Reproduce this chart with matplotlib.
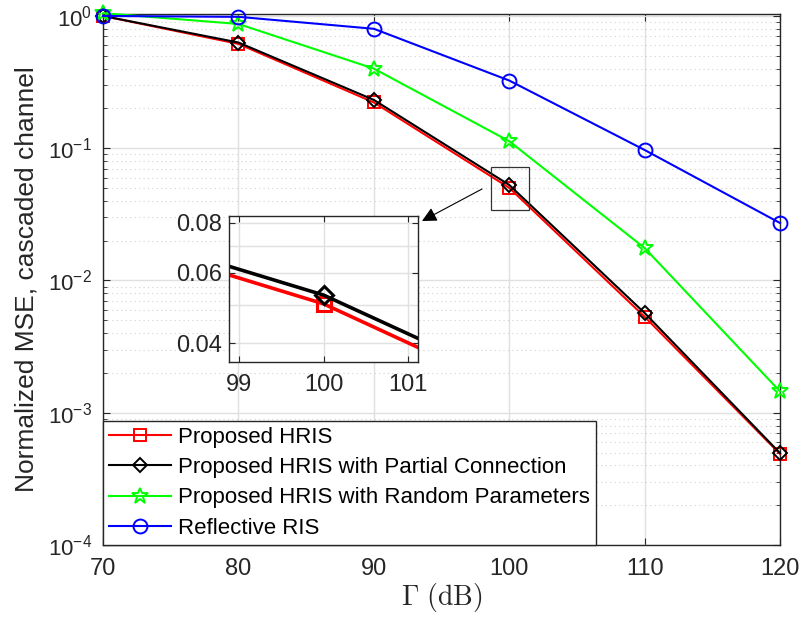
import numpy as np
import matplotlib
matplotlib.use('Agg')
import matplotlib.pyplot as plt
from matplotlib.patches import Rectangle
from matplotlib.ticker import FixedLocator, FixedFormatter, NullFormatter, LogLocator

plt.rcParams['font.family'] = ['Liberation Sans', 'DejaVu Sans']
plt.rcParams['mathtext.fontset'] = 'cm'

gamma_db = [70, 80, 90, 100, 110, 120]
mse_hris = [1.0, 0.615, 0.222, 0.0502, 0.00532, 4.88e-4]
mse_partial = [1.0, 0.63, 0.232, 0.0528, 0.00568, 4.95e-4]
mse_random = [1.05, 0.87, 0.40, 0.113, 0.0176, 1.45e-3]
mse_reflective = [1.0, 0.985, 0.80, 0.325, 0.097, 0.0272]

labels = ['Proposed HRIS',
	'Proposed HRIS with Partial Connection',
	'Proposed HRIS with Random Parameters',
	'Reflective RIS']

zoom_x = (98.63, 101.46)
zoom_y = (0.0341, 0.0721)

txtcol = '#262626'

fig = plt.figure(figsize=(8.03, 6.19), dpi=100)
ax = fig.add_axes([0.1283, 0.1195, 0.8431, 0.8579])

styles = [
	dict(color='red', marker='s', ms=8),
	dict(color='black', marker='D', ms=7),
	dict(color='#00ff00', marker='*', ms=12),
	dict(color='blue', marker='o', ms=10),
]
series = [mse_hris, mse_partial, mse_random, mse_reflective]

for vals, lab, st in zip(series, labels, styles):
	ax.plot(gamma_db, vals, color=st['color'], marker=st['marker'], ms=st['ms'],
		mfc='none', mew=1.4, lw=1.5, label=lab, clip_on=False, zorder=3)

ax.set_yscale('log')
ax.set_xlim(70, 120)
ax.set_ylim(1e-4, 1.035)
ax.set_xticks([70, 80, 90, 100, 110, 120])
ax.yaxis.set_minor_locator(LogLocator(base=10, subs=np.arange(2, 10)))
ax.yaxis.set_minor_formatter(NullFormatter())
ax.grid(True, which='major', color='#e0e0e0', lw=1.0, ls='-')
ax.grid(True, which='minor', axis='y', color='#d0d0d0', lw=0.8, ls=(0, (1, 3)))
ax.set_axisbelow(True)
ax.tick_params(which='both', direction='in', top=True, right=True, colors=txtcol)
ax.tick_params(axis='x', labelsize=17, pad=9)
ax.tick_params(axis='y', labelsize=16, pad=8)
ax.tick_params(which='major', length=5)
ax.tick_params(which='minor', length=3)
for s in ax.spines.values():
	s.set_color(txtcol)
	s.set_linewidth(1.0)

ax.set_xlabel(r'$\Gamma\ \mathrm{(dB)}$', fontsize=20, color=txtcol, labelpad=1)
ax.set_ylabel('Normalized MSE, cascaded channel', fontsize=19, color=txtcol, labelpad=7)

leg = ax.legend(loc='lower left', bbox_to_anchor=(0, 0), borderaxespad=0, fontsize=16,
	fancybox=False, framealpha=1, edgecolor=txtcol, handlelength=2.8, labelspacing=0.42,
	handletextpad=0.3, borderpad=0.28)
leg.get_frame().set_linewidth(1.0)

ax.add_patch(Rectangle((zoom_x[0], zoom_y[0]), zoom_x[1] - zoom_x[0], zoom_y[1] - zoom_y[0],
	fill=False, edgecolor='#333333', lw=0.9, zorder=5))

ax.annotate('', xy=(422 / 803, 1 - 221 / 619), xycoords='figure fraction',
	xytext=(482 / 803, 1 - 189 / 619), textcoords='figure fraction',
	arrowprops=dict(arrowstyle='-|>', color='black', lw=0.8, mutation_scale=22, shrinkA=0, shrinkB=0))

# inset
axi = fig.add_axes([0.2852, 0.4152, 0.2354, 0.2359])
for vals, st in zip(series[:2], styles[:2]):
	axi.plot(gamma_db, vals, color=st['color'], marker=st['marker'], ms=st['ms'] + 2,
		mfc='none', mew=2.2, lw=2.6)
axi.set_yscale('log')
axi.set_xlim(98.88, 101.12)
axi.set_ylim(0.0359, 0.0833)
axi.set_xticks([99, 100, 101])
axi.yaxis.set_major_locator(FixedLocator([0.04, 0.06, 0.08]))
axi.yaxis.set_major_formatter(FixedFormatter(['0.04', '0.06', '0.08']))
axi.yaxis.set_minor_locator(FixedLocator([0.05, 0.07]))
axi.yaxis.set_minor_formatter(NullFormatter())
axi.grid(True, which='both', color='#e0e0e0', lw=1.0)
axi.set_axisbelow(True)
axi.tick_params(which='both', direction='in', top=True, right=True, colors=txtcol, labelsize=17)
axi.tick_params(axis='x', pad=9)
axi.tick_params(axis='y', pad=5)
axi.tick_params(which='major', length=4)
axi.tick_params(which='minor', length=0)
for s in axi.spines.values():
	s.set_color(txtcol)
	s.set_linewidth(1.0)

fig.savefig('out.png', dpi=100)
